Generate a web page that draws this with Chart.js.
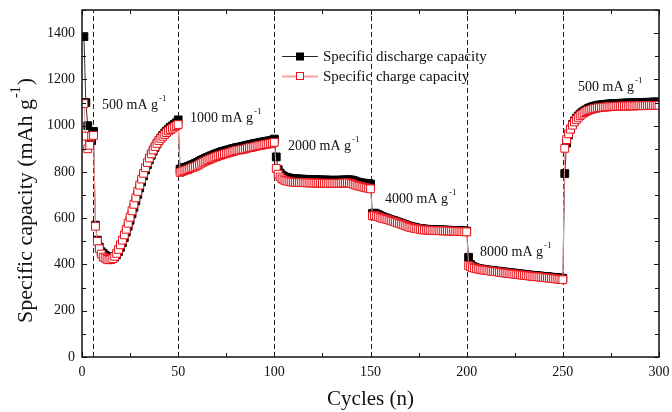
<!DOCTYPE html>
<html>
<head>
<meta charset="utf-8">
<script src="https://cdn.jsdelivr.net/npm/chart.js@4.4.1/dist/chart.umd.min.js"></script>
<style>
  html, body { margin: 0; padding: 0; background: #fff; }
  canvas { display: block; }
</style>
</head>
<body>
<canvas id="chart" width="672" height="412"></canvas>
<script>
// capacities in mAh g-1, one value per cycle, in blocks of 50 cycles
const DISCHARGE_1_50 = [
  1385, 1100, 1000, 940, 935, 975, 570, 505, 475, 455,
  448, 440, 435, 430, 428, 430, 432, 442, 456, 474,
  494, 516, 540, 565, 591, 619, 647, 675, 703, 731,
  757, 783, 808, 831, 852, 872, 890, 906, 921, 935,
  947, 958, 968, 977, 985, 993, 999, 1005, 1012, 1025,
];
const CHARGE_1_50 = [
  1095, 955, 900, 915, 955, 958, 565, 500, 468, 445,
  432, 427, 422, 420, 421, 425, 435, 448, 465, 485,
  505, 528, 552, 578, 604, 632, 660, 688, 716, 743,
  769, 794, 818, 840, 860, 878, 895, 910, 923, 935,
  945, 954, 962, 970, 977, 983, 989, 995, 1000, 1005,
];
const DISCHARGE_51_100 = [
  812, 816, 818, 820, 823, 826, 830, 833, 837, 841,
  846, 850, 854, 858, 862, 865, 869, 872, 876, 879,
  882, 885, 888, 890, 893, 895, 897, 900, 902, 904,
  906, 907, 909, 911, 913, 915, 917, 919, 921, 923,
  924, 926, 928, 929, 931, 932, 934, 935, 937, 942,
];
const CHARGE_51_100 = [
  798, 802, 805, 808, 810, 814, 818, 820, 824, 828,
  833, 838, 842, 846, 850, 853, 857, 860, 864, 866,
  870, 872, 875, 878, 880, 882, 885, 887, 890, 892,
  894, 895, 897, 898, 900, 903, 905, 906, 908, 910,
  912, 914, 915, 917, 918, 920, 921, 923, 925, 928,
];
const DISCHARGE_101_150 = [
  865, 810, 795, 786, 781, 777, 775, 773, 772, 771,
  770, 770, 769, 769, 768, 768, 768, 767, 767, 767,
  766, 766, 766, 765, 765, 765, 765, 764, 764, 764,
  764, 764, 764, 764, 765, 765, 765, 766, 766, 765,
  763, 760, 757, 755, 753, 752, 751, 750, 749, 748,
];
const CHARGE_101_150 = [
  815, 790, 778, 770, 765, 762, 760, 758, 757, 756,
  755, 755, 754, 754, 754, 753, 753, 753, 753, 752,
  752, 752, 752, 752, 751, 751, 751, 751, 751, 751,
  751, 751, 751, 751, 752, 752, 752, 753, 752, 750,
  747, 744, 741, 739, 737, 735, 733, 731, 729, 727,
];
const DISCHARGE_151_200 = [
  620, 622, 619, 615, 611, 607, 604, 601, 598, 595,
  592, 590, 587, 584, 581, 578, 575, 572, 569, 566,
  564, 562, 560, 558, 556, 555, 554, 553, 552, 552,
  551, 551, 550, 550, 550, 549, 549, 549, 548, 548,
  548, 547, 547, 547, 546, 546, 546, 545, 545, 544,
];
const CHARGE_151_200 = [
  610, 612, 609, 606, 603, 600, 598, 596, 594, 591,
  588, 586, 583, 580, 577, 574, 571, 568, 565, 562,
  560, 558, 556, 555, 553, 551, 550, 549, 549, 548,
  548, 547, 547, 547, 546, 546, 546, 545, 545, 545,
  544, 544, 544, 543, 543, 543, 542, 542, 541, 541,
];
const DISCHARGE_201_250 = [
  431, 400, 392, 388, 385, 383, 381, 380, 378, 377,
  376, 375, 374, 373, 372, 371, 370, 369, 368, 367,
  366, 365, 364, 363, 362, 361, 360, 359, 358, 357,
  356, 355, 354, 353, 352, 352, 351, 350, 349, 348,
  347, 347, 346, 345, 344, 344, 343, 342, 341, 340,
];
const CHARGE_201_250 = [
  395, 390, 386, 384, 382, 380, 379, 377, 376, 375,
  374, 372, 371, 370, 369, 368, 366, 365, 364, 363,
  362, 361, 360, 359, 358, 357, 356, 355, 354, 353,
  352, 351, 350, 349, 348, 347, 347, 346, 345, 344,
  343, 342, 341, 340, 339, 338, 337, 336, 335, 334,
];
const DISCHARGE_251_300 = [
  793, 925, 960, 985, 1005, 1020, 1032, 1042, 1050, 1057,
  1063, 1068, 1073, 1077, 1080, 1083, 1085, 1087, 1089, 1090,
  1091, 1092, 1093, 1094, 1094, 1095, 1095, 1096, 1096, 1097,
  1097, 1097, 1098, 1098, 1098, 1099, 1099, 1099, 1100, 1100,
  1100, 1100, 1101, 1101, 1101, 1101, 1102, 1102, 1102, 1102,
];
const CHARGE_251_300 = [
  902, 940, 965, 985, 1002, 1016, 1027, 1036, 1044, 1050,
  1056, 1061, 1065, 1068, 1071, 1073, 1075, 1077, 1078, 1079,
  1080, 1081, 1081, 1082, 1082, 1083, 1083, 1084, 1084, 1084,
  1085, 1085, 1084, 1085, 1086, 1086, 1085, 1086, 1086, 1087,
  1087, 1086, 1087, 1087, 1088, 1088, 1087, 1088, 1088, 1088,
];

// cycles where the current density changes
const RATE_BREAKS = [5.5, 50, 100, 150, 200, 250];
const RATE_LABELS = ['500', '1000', '2000', '4000', '8000', '500'];

const X_TICKS = [0, 50, 100, 150, 200, 250, 300];
const Y_TICKS = [0, 200, 400, 600, 800, 1000, 1200, 1400];

const SERIES_NAMES = ['Specific discharge capacity', 'Specific charge capacity'];

const FONT = '"Liberation Serif", "Times New Roman", serif';

const discharge = [].concat(DISCHARGE_1_50, DISCHARGE_51_100, DISCHARGE_101_150,
  DISCHARGE_151_200, DISCHARGE_201_250, DISCHARGE_251_300);
const charge = [].concat(CHARGE_1_50, CHARGE_51_100, CHARGE_101_150,
  CHARGE_151_200, CHARGE_201_250, CHARGE_251_300);

const toPoints = (arr) => arr.map((v, i) => ({ x: i + 1, y: v }));

function textWithSup(ctx, x, y, base, sup, tail, size) {
  ctx.font = `${size}px ${FONT}`;
  ctx.fillText(base, x, y);
  let w = ctx.measureText(base).width;
  ctx.font = `${Math.round(size * 0.62)}px ${FONT}`;
  ctx.fillText(sup, x + w + 1, y - size * 0.42);
  w += ctx.measureText(sup).width + 2;
  if (tail) {
    ctx.font = `${size}px ${FONT}`;
    ctx.fillText(tail, x + w, y);
  }
}

function supWidth(ctx, base, sup, tail, size) {
  ctx.font = `${size}px ${FONT}`;
  let w = ctx.measureText(base).width + ctx.measureText(tail || '').width;
  ctx.font = `${Math.round(size * 0.62)}px ${FONT}`;
  return w + ctx.measureText(sup).width + 3;
}

const decor = {
  id: 'decor',
  beforeDatasetsDraw(chart) {
    const { ctx, chartArea: a, scales: { x, y } } = chart;
    ctx.save();
    ctx.strokeStyle = '#222';
    ctx.lineWidth = 1;
    ctx.setLineDash([5, 3]);
    RATE_BREAKS.forEach((c) => {
      const px = Math.round(x.getPixelForValue(c)) + 0.5;
      ctx.beginPath();
      ctx.moveTo(px, y.getPixelForValue(0));
      ctx.lineTo(px, a.top);
      ctx.stroke();
    });
    ctx.restore();
  },
  afterDraw(chart) {
    const { ctx, chartArea: a, scales: { x, y } } = chart;
    ctx.save();

    // frame with inward ticks on all sides
    ctx.strokeStyle = '#111';
    ctx.lineWidth = 1.5;
    ctx.strokeRect(a.left, a.top, a.right - a.left, a.bottom - a.top);
    ctx.lineWidth = 1;
    ctx.beginPath();
    for (let v = 0; v <= 300; v += 25) {
      const px = Math.round(x.getPixelForValue(v)) + 0.5;
      const len = v % 50 === 0 ? 5 : 4;
      ctx.moveTo(px, a.bottom); ctx.lineTo(px, a.bottom - len);
      ctx.moveTo(px, a.top); ctx.lineTo(px, a.top + len);
    }
    for (let v = 0; v <= 1500; v += 100) {
      const py = Math.round(y.getPixelForValue(v)) + 0.5;
      const len = v % 200 === 0 ? 5 : 4;
      ctx.moveTo(a.left, py); ctx.lineTo(a.left + len, py);
      ctx.moveTo(a.right, py); ctx.lineTo(a.right - len, py);
    }
    ctx.stroke();

    // current density labels
    ctx.fillStyle = '#111';
    ctx.textBaseline = 'middle';
    ctx.textAlign = 'left';
    const spots = [[102, 105], [190, 118], [288, 146], [385, 199], [480, 252], [578, 87]];
    RATE_LABELS.forEach((r, i) => {
      textWithSup(ctx, spots[i][0], spots[i][1], r + ' mA g', '-1', '', 14);
    });

    // legend
    const rows = [56, 76];
    rows.forEach((ry, i) => {
      ctx.strokeStyle = i === 0 ? '#222' : '#ff9c9c';
      ctx.lineWidth = i === 0 ? 1 : 2;
      ctx.beginPath();
      ctx.moveTo(282, ry + 0.5);
      ctx.lineTo(318, ry + 0.5);
      ctx.stroke();
      if (i === 0) {
        ctx.fillStyle = '#000';
        ctx.fillRect(296, ry - 3.5, 8, 8);
      } else {
        ctx.fillStyle = '#fff';
        ctx.fillRect(296.5, ry - 3.5, 7, 7);
        ctx.strokeStyle = '#e8111a';
        ctx.lineWidth = 1;
        ctx.strokeRect(296.5, ry - 3.5, 7, 7);
      }
      ctx.fillStyle = '#111';
      ctx.font = `15px ${FONT}`;
      ctx.fillText(SERIES_NAMES[i], 323, ry + 1);
    });

    // axis titles
    ctx.fillStyle = '#111';
    ctx.textAlign = 'center';
    ctx.font = `21px ${FONT}`;
    ctx.fillText('Cycles (n)', (a.left + a.right) / 2, 399);

    ctx.translate(26, 200);
    ctx.rotate(-Math.PI / 2);
    ctx.textAlign = 'left';
    const w = supWidth(ctx, 'Specific capacity (mAh g', '-1', ')', 22);
    textWithSup(ctx, -w / 2, 0, 'Specific capacity (mAh g', '-1', ')', 22);
    ctx.restore();
  },
};

new Chart(document.getElementById('chart'), {
  type: 'line',
  data: {
    datasets: [
      {
        label: SERIES_NAMES[0],
        data: toPoints(discharge),
        order: 2,
        borderColor: '#333',
        borderWidth: 1,
        backgroundColor: '#000',
        pointStyle: 'rect',
        pointRadius: 5.5,
        pointBorderColor: '#000',
        pointBorderWidth: 1,
        pointBackgroundColor: '#000',
      },
      {
        label: SERIES_NAMES[1],
        data: toPoints(charge),
        order: 1,
        borderColor: '#ff9a9a',
        borderWidth: 1,
        backgroundColor: '#fff',
        pointStyle: 'rect',
        pointRadius: 5.5,
        pointBorderColor: '#e8111a',
        pointBorderWidth: 1,
        pointBackgroundColor: '#fff',
      },
    ],
  },
  options: {
    responsive: false,
    animation: false,
    devicePixelRatio: 1,
    layout: { padding: { top: 10, right: 13, left: 0, bottom: 0 } },
    plugins: {
      legend: { display: false },
      tooltip: { enabled: false },
    },
    scales: {
      x: {
        type: 'linear',
        min: 0,
        max: 300,
        afterBuildTicks: (s) => { s.ticks = X_TICKS.map((v) => ({ value: v })); },
        afterFit: (s) => { s.height = 55; s.paddingLeft = 0; s.paddingRight = 0; },
        grid: { display: false, drawTicks: false },
        border: { display: false },
        ticks: { color: '#111', padding: 7, font: { family: FONT, size: 14 }, maxRotation: 0 },
      },
      y: {
        type: 'linear',
        min: 0,
        max: 1500,
        afterBuildTicks: (s) => { s.ticks = Y_TICKS.map((v) => ({ value: v })); },
        afterFit: (s) => { s.width = 82; s.paddingTop = 0; s.paddingBottom = 0; },
        grid: { display: false, drawTicks: false },
        border: { display: false },
        ticks: {
          color: '#111',
          padding: 7,
          font: { family: FONT, size: 14 },
          callback: (v) => String(v),
        },
      },
    },
  },
  plugins: [decor],
});
</script>
</body>
</html>
